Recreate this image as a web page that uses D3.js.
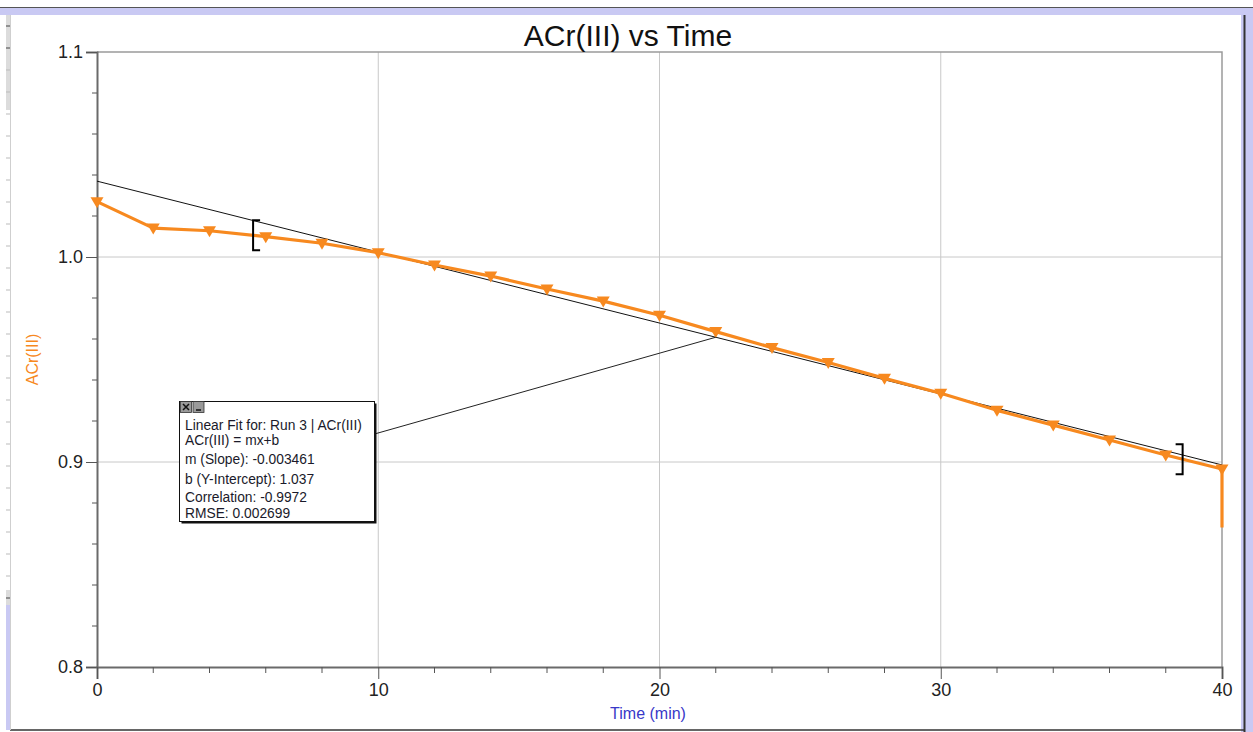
<!DOCTYPE html>
<html>
<head>
<meta charset="utf-8">
<script src="https://cdn.jsdelivr.net/npm/d3@7"></script>
<style>
  body { margin: 0; background: #fff; }
  svg { display: block; font-family: "Liberation Sans", Arial, sans-serif; }
</style>
</head>
<body>
<svg id="chart" width="1253" height="732"></svg>
<script>
// data
const times = [0, 2, 4, 6, 8, 10, 12, 14, 16, 18, 20, 22, 24, 26, 28, 30, 32, 34, 36, 38, 40];
const values = [1.027, 1.0141, 1.0128, 1.0099, 1.0067, 1.0021, 0.9961, 0.9907, 0.9844, 0.9785,
                0.9716, 0.9636, 0.9558, 0.9485, 0.9408, 0.9335, 0.9252, 0.918, 0.9107, 0.9034, 0.8966];
// last reading, drawn without a marker
const tailTime = 40;
const tailValue = 0.868;

const xTicks = [0, 10, 20, 30, 40];
const yTicks = [0.8, 0.9, 1.0, 1.1];

const fitSlope = -0.003461;
const fitIntercept = 1.037;
const fitRange = [5.55, 38.6];
const calloutTime = 22;
const fitLines = [
  "Linear Fit for: Run 3 | ACr(III)",
  "ACr(III) = mx+b",
  "m (Slope): -0.003461",
  "b (Y-Intercept): 1.037",
  "Correlation: -0.9972",
  "RMSE: 0.002699"
];

const orange = "#f7891f";
const svg = d3.select("#chart");

// window frame
svg.append("rect").attr("x", 0).attr("y", 8).attr("width", 1253).attr("height", 7).attr("fill", "#c9c9f3");
svg.append("line").attr("x1", 0).attr("x2", 1253).attr("y1", 7.5).attr("y2", 7.5).attr("stroke", "#555");
svg.append("rect").attr("x", 1241).attr("y", 8).attr("width", 12).attr("height", 724).attr("fill", "#c9c9f3");
svg.append("line").attr("x1", 1244.5).attr("x2", 1244.5).attr("y1", 15).attr("y2", 732).attr("stroke", "#333").attr("stroke-width", 2);
svg.append("line").attr("x1", 10).attr("x2", 1245).attr("y1", 730).attr("y2", 730).attr("stroke", "#333").attr("stroke-width", 1.5);
svg.append("rect").attr("x", 6).attr("y", 15).attr("width", 4).attr("height", 95).attr("fill", "#dcdcdc");
svg.append("rect").attr("x", 6).attr("y", 590).attr("width", 4).attr("height", 15).attr("fill", "#dcdcdc");
svg.append("rect").attr("x", 6).attr("y", 605).attr("width", 4).attr("height", 125).attr("fill", "#c9c9f3");
svg.append("line").attr("x1", 10.5).attr("x2", 10.5).attr("y1", 15).attr("y2", 730).attr("stroke", "#cfcfcf");
svg.selectAll("line.ruler").data(d3.range(26, 600, 22)).join("line")
  .attr("x1", 6).attr("x2", 10).attr("y1", d => d).attr("y2", d => d)
  .attr("stroke", d => (d < 60 || d > 580) ? "#444" : "#bbb");

const x = d3.scaleLinear().domain([0, 40]).range([97, 1222]);
const y = d3.scaleLinear().domain([0.8, 1.1]).range([667, 52]);

// grid
svg.append("g").selectAll("line").data(xTicks.slice(1, -1)).join("line")
  .attr("x1", d => x(d)).attr("x2", d => x(d)).attr("y1", y(1.1)).attr("y2", y(0.8))
  .attr("stroke", "#c8c8c8");
svg.append("g").selectAll("line").data(yTicks.slice(1, -1)).join("line")
  .attr("x1", x(0)).attr("x2", x(40)).attr("y1", d => y(d)).attr("y2", d => y(d))
  .attr("stroke", "#c8c8c8");

// plot frame top/right
svg.append("path")
  .attr("d", `M${x(0)},${y(1.1)}H${x(40)}V${y(0.8)}`)
  .attr("fill", "none").attr("stroke", "#9a9a9a").attr("stroke-width", 1.5);

// axes
const yAxis = svg.append("g").attr("transform", `translate(${x(0)},0)`)
  .call(d3.axisLeft(y).tickValues(yTicks).tickFormat(d3.format(".1f")).tickSize(11).tickPadding(3));
const xAxis = svg.append("g").attr("transform", `translate(0,${y(0.8)})`)
  .call(d3.axisBottom(x).tickValues(xTicks).tickSize(12).tickPadding(3));
[xAxis, yAxis].forEach(g => {
  g.select(".domain").attr("stroke", "#6a6a6a").attr("stroke-width", 2);
  g.selectAll(".tick line").attr("stroke", "#555");
  g.selectAll(".tick text").attr("font-size", 18).attr("fill", "#222")
    .attr("font-family", "'Liberation Sans', Arial, sans-serif");
});
xAxis.selectAll(".tick text").attr("dy", "0.78em");

// minor ticks
svg.append("g").selectAll("line").data(d3.range(0.82, 1.1, 0.02).filter(v => Math.abs(v * 10 - Math.round(v * 10)) > 0.01))
  .join("line")
  .attr("x1", x(0) - 5).attr("x2", x(0)).attr("y1", d => y(d)).attr("y2", d => y(d))
  .attr("stroke", "#555");
svg.append("g").selectAll("line").data(d3.range(2, 40, 2).filter(v => v % 10 !== 0))
  .join("line")
  .attr("x1", d => x(d)).attr("x2", d => x(d)).attr("y1", y(0.8)).attr("y2", y(0.8) + 6)
  .attr("stroke", "#555");

// titles
svg.append("text").attr("x", 628).attr("y", 46).attr("text-anchor", "middle")
  .attr("font-size", 30).attr("fill", "#111").text("ACr(III) vs Time");
svg.append("text").attr("x", 648).attr("y", 719).attr("text-anchor", "middle")
  .attr("font-size", 16).attr("fill", "#3838c8").text("Time (min)");
svg.append("text").attr("transform", `translate(38,${(y(0.8) + y(1.1)) / 2}) rotate(-90)`)
  .attr("text-anchor", "middle").attr("font-size", 16).attr("fill", orange).text("ACr(III)");

// fit line
const fit = t => fitSlope * t + fitIntercept;
svg.append("line")
  .attr("x1", x(0)).attr("y1", y(fit(0))).attr("x2", x(40)).attr("y2", y(fit(40)))
  .attr("stroke", "#111").attr("stroke-width", 1);

// data line
const pts = times.map((t, i) => [t, values[i]]);
const line = d3.line().x(d => x(d[0])).y(d => y(d[1]));
svg.append("path").datum(pts.concat([[tailTime, tailValue]]))
  .attr("d", line).attr("fill", "none").attr("stroke", orange)
  .attr("stroke-width", 3.2).attr("stroke-linejoin", "round");
svg.append("g").selectAll("path").data(pts).join("path")
  .attr("transform", d => `translate(${x(d[0])},${y(d[1])})`)
  .attr("d", "M-6.5,-4.5L6.5,-4.5L0,6.5Z").attr("fill", orange);

// range brackets
const valueAt = t => {
  const i = d3.bisectLeft(times, t);
  const a = pts[i - 1], b = pts[i];
  return a[1] + (b[1] - a[1]) * (t - a[0]) / (b[0] - a[0]);
};
fitRange.forEach((t, k) => {
  const cx = x(t), cy = y(valueAt(t));
  const dir = k === 0 ? 1 : -1;
  svg.append("path")
    .attr("d", `M${cx + dir * 7},${cy - 15}H${cx}V${cy + 15}H${cx + dir * 7}`)
    .attr("fill", "none").attr("stroke", "#000").attr("stroke-width", 2);
});

// fit info box
const box = { x: 179.5, y: 401.5, w: 195, h: 120 };
svg.append("line")
  .attr("x1", box.x + box.w).attr("y1", 434).attr("x2", x(calloutTime)).attr("y2", y(fit(calloutTime)))
  .attr("stroke", "#222").attr("stroke-width", 1);
svg.append("rect").attr("x", box.x + 2).attr("y", box.y + 2).attr("width", box.w).attr("height", box.h).attr("fill", "#111");
svg.append("rect").attr("x", box.x).attr("y", box.y).attr("width", box.w).attr("height", box.h)
  .attr("fill", "#fff").attr("stroke", "#111").attr("stroke-width", 1);
[0, 1].forEach(i => {
  const bx = box.x + 1 + i * 12.5;
  svg.append("rect").attr("x", bx).attr("y", box.y).attr("width", 11).attr("height", 11)
    .attr("fill", "#9a9a9a").attr("stroke", "#333").attr("stroke-width", 0.8);
  if (i === 0) {
    svg.append("path").attr("d", `M${bx + 2.5},${box.y + 2.5}L${bx + 8.5},${box.y + 8.5}M${bx + 8.5},${box.y + 2.5}L${bx + 2.5},${box.y + 8.5}`)
      .attr("stroke", "#111").attr("stroke-width", 1.5);
  } else {
    svg.append("line").attr("x1", bx + 3).attr("x2", bx + 8).attr("y1", box.y + 8.5).attr("y2", box.y + 8.5)
      .attr("stroke", "#111").attr("stroke-width", 1.5);
  }
});
const lineY = [430, 445, 464, 484, 502, 518];
svg.append("g").selectAll("text").data(fitLines).join("text")
  .attr("x", 185).attr("y", (d, i) => lineY[i])
  .attr("font-size", 13.8).attr("fill", "#1a1a2a").text(d => d);
</script>
</body>
</html>
